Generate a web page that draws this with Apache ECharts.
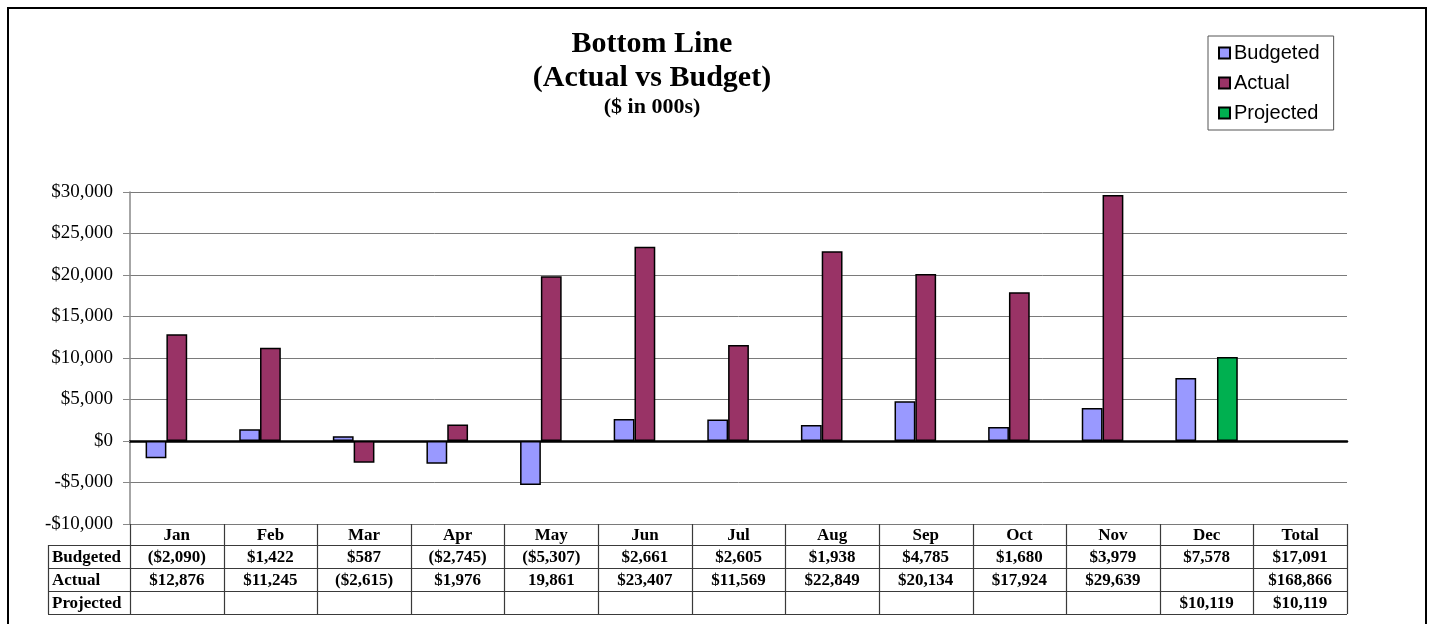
<!DOCTYPE html>
<html>
<head>
<meta charset="utf-8">
<title>Bottom Line (Actual vs Budget)</title>
<script src="https://cdn.jsdelivr.net/npm/echarts@6/dist/echarts.min.js"></script>
<style>
  html, body { margin: 0; padding: 0; background: #fff; }
  #chart { width: 1432px; height: 624px; }
</style>
</head>
<body>
<div id="chart"></div>
<script>
// Categories: twelve months plus a yearly total column (the total has no bars)
const months = ['Jan', 'Feb', 'Mar', 'Apr', 'May', 'Jun', 'Jul', 'Aug', 'Sep', 'Oct', 'Nov', 'Dec', 'Total'];

// Bar values ($ in 000s)
const budgeted  = [-2090, 1422, 587, -2745, -5307, 2661, 2605, 1938, 4785, 1680, 3979, 7578, null];
const actual    = [12876, 11245, -2615, 1976, 19861, 23407, 11569, 22849, 20134, 17924, 29639, null, null];
const projected = [null, null, null, null, null, null, null, null, null, null, null, 10119, null];

// Data table text under the chart
const budgetedText  = ['($2,090)', '$1,422', '$587', '($2,745)', '($5,307)', '$2,661', '$2,605', '$1,938', '$4,785', '$1,680', '$3,979', '$7,578', '$17,091'];
const actualText    = ['$12,876', '$11,245', '($2,615)', '$1,976', '19,861', '$23,407', '$11,569', '$22,849', '$20,134', '$17,924', '$29,639', '', '$168,866'];
const projectedText = ['', '', '', '', '', '', '', '', '', '', '', '$10,119', '$10,119'];

// Value axis range
const yMin = -10000;
const yMax = 30000;
const yStep = 5000;

const SERIF = '"Liberation Serif", "Times New Roman", serif';
const SANS = '"Liberation Sans", Arial, sans-serif';

function money(v) {
  const s = Math.abs(v).toLocaleString('en-US');
  return (v < 0 ? '-$' : '$') + s;
}

const chart = echarts.init(document.getElementById('chart'), null, { renderer: 'canvas' });

const option = {
  animation: false,
  backgroundColor: '#ffffff',
  title: {
    text: 'Bottom Line\n(Actual vs Budget)',
    subtext: '($ in 000s)',
    left: 652,
    top: 27,
    textAlign: 'center',
    padding: 0,
    itemGap: 0,
    textStyle: { fontFamily: SERIF, fontWeight: 'bold', fontSize: 30, lineHeight: 34, color: '#000' },
    subtextStyle: { fontFamily: SERIF, fontWeight: 'bold', fontSize: 22, lineHeight: 24, color: '#000' }
  },
  legend: {
    orient: 'vertical',
    left: 1208,
    top: 36,
    padding: [7, 14, 7, 10],
    itemGap: 10,
    itemWidth: 11,
    itemHeight: 11,
    icon: 'rect',
    borderColor: '#555',
    borderWidth: 1,
    textStyle: { fontFamily: SANS, fontSize: 20, color: '#000', padding: [0, 0, 0, -1] },
    data: ['Budgeted', 'Actual', 'Projected']
  },
  grid: { left: 130, right: 85, top: 192, bottom: 100, containLabel: false },
  xAxis: {
    type: 'category',
    data: months,
    axisLine: { show: true, onZero: true, lineStyle: { color: '#000', width: 2.5 } },
    axisTick: { show: false },
    axisLabel: { show: false },
    splitLine: { show: false }
  },
  yAxis: {
    type: 'value',
    min: yMin,
    max: yMax,
    interval: yStep,
    axisLine: { show: true, lineStyle: { color: '#888', width: 1.5 } },
    axisTick: { show: true, length: 7, lineStyle: { color: '#888', width: 1 } },
    axisLabel: {
      margin: 17,
      fontFamily: SERIF,
      fontSize: 19,
      color: '#000',
      formatter: money
    },
    splitLine: { show: true, lineStyle: { color: '#7a7a7a', width: 1 } }
  },
  series: [
    {
      name: 'Budgeted', type: 'bar', data: budgeted,
      barGap: '0%', barCategoryGap: '33.33%',
      itemStyle: { color: '#9999FF', borderColor: '#000', borderWidth: 1.5 }
    },
    {
      name: 'Actual', type: 'bar', data: actual,
      barGap: '0%', barCategoryGap: '33.33%',
      itemStyle: { color: '#993366', borderColor: '#000', borderWidth: 1.5 }
    },
    {
      name: 'Projected', type: 'bar', data: projected,
      barGap: '0%', barCategoryGap: '33.33%',
      itemStyle: { color: '#00B050', borderColor: '#000', borderWidth: 1.5 }
    }
  ]
};

chart.setOption(option);

// Data table aligned with the category axis, plus the outer frame
function buildTable() {
  const yb = Math.round(chart.convertToPixel({ yAxisIndex: 0 }, yMin));
  const centers = months.map((m, i) => chart.convertToPixel({ xAxisIndex: 0 }, i));
  const band = centers[1] - centers[0];
  const leftEdge = centers[0] - band / 2;
  const rightEdge = centers[centers.length - 1] + band / 2;
  const labelLeft = 48;
  const headerH = 21;
  const rowH = 23;
  const rows = [
    { label: 'Budgeted', cells: budgetedText },
    { label: 'Actual', cells: actualText },
    { label: 'Projected', cells: projectedText }
  ];
  const tableBottom = yb + headerH + rowH * rows.length;
  const lineColor = '#3a3a3a';
  const els = [];

  // outer frame of the whole chart
  els.push({
    type: 'rect', silent: true, z: 0,
    shape: { x: 8, y: 8, width: 1418, height: 700 },
    style: { fill: null, stroke: '#000', lineWidth: 2 }
  });

  // horizontal rules
  for (let r = 0; r <= rows.length; r++) {
    const y = yb + headerH + r * rowH + 0.5;
    els.push({
      type: 'line', silent: true, z: 10,
      shape: { x1: labelLeft, y1: y, x2: rightEdge, y2: y },
      style: { stroke: lineColor, lineWidth: 1.2 }
    });
  }
  // left edge of the row label column
  els.push({
    type: 'line', silent: true, z: 10,
    shape: { x1: labelLeft + 0.5, y1: yb + headerH, x2: labelLeft + 0.5, y2: tableBottom },
    style: { stroke: lineColor, lineWidth: 1.2 }
  });
  // column separators at category boundaries
  for (let i = 0; i <= months.length; i++) {
    const x = Math.round(leftEdge + i * band) + 0.5;
    els.push({
      type: 'line', silent: true, z: 10,
      shape: { x1: x, y1: yb, x2: x, y2: tableBottom },
      style: { stroke: lineColor, lineWidth: 1.2 }
    });
  }

  const font = 'bold 17px ' + SERIF;
  // header: month names
  months.forEach((m, i) => {
    els.push({
      type: 'text', silent: true, z: 11,
      x: centers[i], y: yb + headerH / 2 + 1,
      style: { text: m, font: font, fill: '#000', textAlign: 'center', textVerticalAlign: 'middle', align: 'center', verticalAlign: 'middle' }
    });
  });
  // body rows
  rows.forEach((row, r) => {
    const cy = yb + headerH + r * rowH + rowH / 2 + 1;
    els.push({
      type: 'text', silent: true, z: 11,
      x: labelLeft + 4, y: cy,
      style: { text: row.label, font: font, fill: '#000', textAlign: 'left', textVerticalAlign: 'middle', align: 'left', verticalAlign: 'middle' }
    });
    row.cells.forEach((t, i) => {
      if (!t) return;
      els.push({
        type: 'text', silent: true, z: 11,
        x: centers[i], y: cy,
        style: { text: t, font: font, fill: '#000', textAlign: 'center', textVerticalAlign: 'middle', align: 'center', verticalAlign: 'middle' }
      });
    });
  });

  chart.setOption({ graphic: els });
}

buildTable();
</script>
</body>
</html>
